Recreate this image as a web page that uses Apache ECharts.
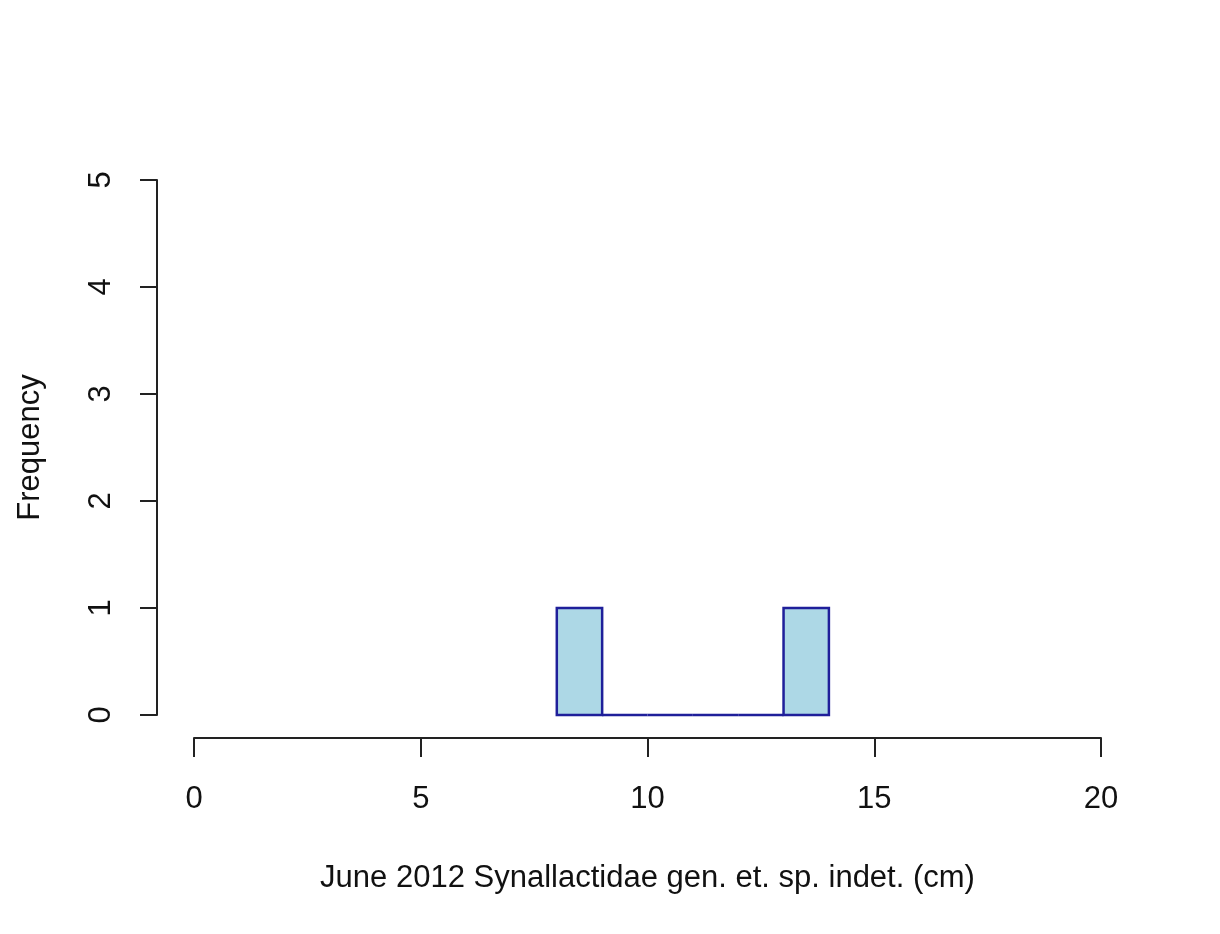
<!DOCTYPE html>
<html>
<head>
<meta charset="utf-8">
<script src="https://cdn.jsdelivr.net/npm/echarts@6/dist/echarts.min.js"></script>
<style>
html, body { margin: 0; padding: 0; background: #fff; }
#chart { width: 1220px; height: 934px; }
</style>
</head>
<body>
<div id="chart"></div>
<script>
// histogram bins (cm) and counts
var binStart = [8, 9, 10, 11, 12, 13];
var binEnd = [9, 10, 11, 12, 13, 14];
var counts = [1, 0, 0, 0, 0, 1];
var xTicks = [0, 5, 10, 15, 20];
var yTicks = [0, 1, 2, 3, 4, 5];

var bins = binStart.map(function (s, i) {
    return [s, binEnd[i], counts[i]];
});

var chart = echarts.init(document.getElementById('chart'));
var font = 'Liberation Sans, Arial, sans-serif';

chart.setOption({
    animation: false,
    grid: { left: 194, right: 119, top: 180, bottom: 219 },
    xAxis: {
        type: 'value',
        min: xTicks[0],
        max: xTicks[xTicks.length - 1],
        interval: 5,
        offset: 23,
        splitLine: { show: false },
        axisLine: { onZero: false, lineStyle: { color: '#222', width: 2 } },
        axisTick: { length: 19, lineStyle: { color: '#222', width: 2 } },
        axisLabel: { margin: 46, fontSize: 31, fontFamily: font, color: '#111' },
        name: 'June 2012 Synallactidae gen. et. sp. indet. (cm)',
        nameLocation: 'middle',
        nameGap: 125,
        nameTextStyle: { fontSize: 31, fontFamily: font, color: '#111' }
    },
    yAxis: {
        type: 'value',
        min: yTicks[0],
        max: yTicks[yTicks.length - 1],
        interval: 1,
        offset: 37,
        splitLine: { show: false },
        axisLine: { show: true, onZero: false, lineStyle: { color: '#222', width: 2 } },
        axisTick: { show: true, length: 17, lineStyle: { color: '#222', width: 2 } },
        axisLabel: { rotate: 90, margin: 40, fontSize: 31, fontFamily: font, color: '#111' },
        name: 'Frequency',
        nameLocation: 'middle',
        nameGap: 111,
        nameTextStyle: { fontSize: 31, fontFamily: font, color: '#111' }
    },
    series: [{
        type: 'custom',
        data: bins,
        renderItem: function (params, api) {
            var p0 = api.coord([api.value(0), 0]);
            var p1 = api.coord([api.value(1), api.value(2)]);
            return {
                type: 'rect',
                shape: { x: p0[0], y: p1[1], width: p1[0] - p0[0], height: p0[1] - p1[1] },
                style: { fill: '#ADD8E6', stroke: '#1f1f9a', lineWidth: 2.5 }
            };
        }
    }]
});
</script>
</body>
</html>
